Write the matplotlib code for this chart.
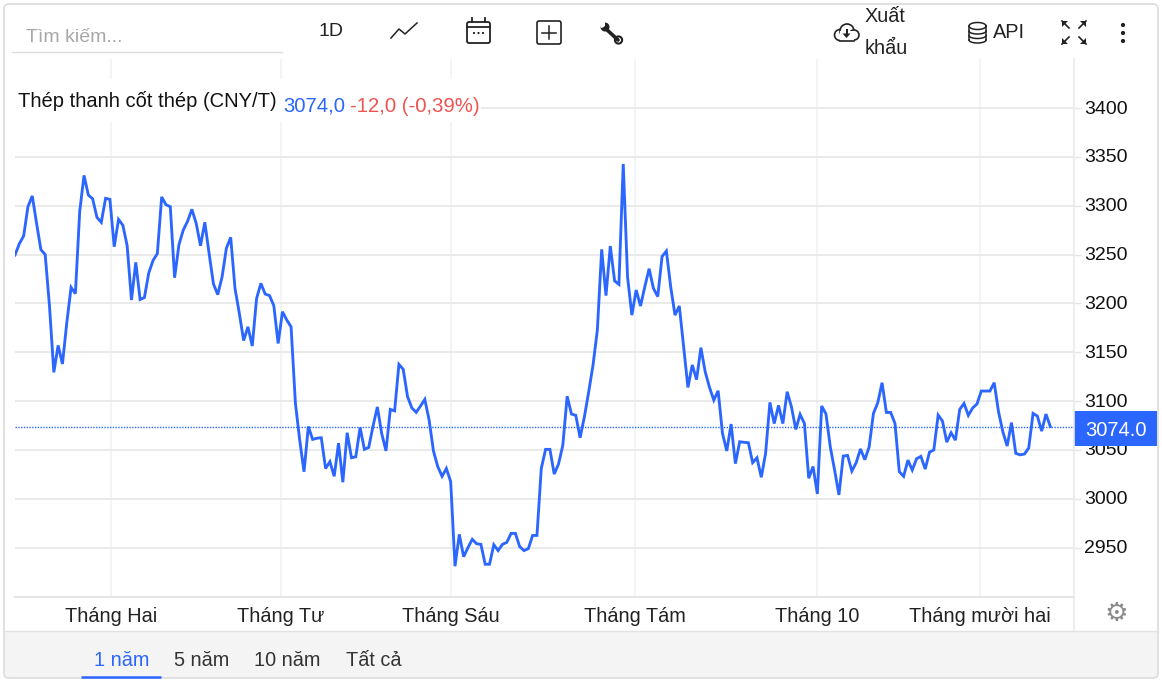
import numpy as np
import matplotlib
matplotlib.use("Agg")
import matplotlib.pyplot as plt
from matplotlib.patches import Rectangle, FancyBboxPatch, Circle, Polygon
from matplotlib.transforms import ScaledTranslation

prices = [
 3249.5,3261,3269,3299,3310,3282,3255,3250,3197,3129.4,3157,3138,3180,3216.4,3210,3294,3331,3311,3307,3288,
 3283,3307.5,3306.5,3258,3286,3280,3259,3203.5,3242,3204,3206,3231,3244,3251,3309,3301,3299,3226.3,3260,3275,
 3284,3296.3,3282,3259,3283,3251,3220,3209,3227,3256.4,3267.6,3215.4,3190,3162,3176,3156.4,3205,3220.5,3209.6,3208,
 3197.7,3159,3191.5,3183,3176,3098,3060,3027.7,3074,3060.8,3062,3062.5,3031,3038,3023,3057,3017,3067.6,3042,3043,
 3073,3050.6,3052.6,3074.5,3094,3067,3049,3091.5,3090,3137.6,3132.5,3104.5,3093,3088.5,3095,3101.8,3080.6,3049,3033,3023,
 3031,3017.5,2931,2963.6,2940.7,2950,2958.5,2954,2953.4,2933,2933,2953,2947,2953.4,2955.4,2964.6,2964.6,2951,2947,2949,
 2962.5,2962.5,3031,3050.6,3050.6,3025.3,3035.6,3055,3105,3086.8,3085.4,3062.5,3084,3109.6,3137,3172.7,3255.3,3208,3258.7,3223,
 3219.5,3342.7,3227,3188,3213.7,3197.3,3217,3235.5,3215.4,3207,3248,3253.6,3217,3188,3197.3,3155.7,3114,3137,3122,3154.7,
 3130,3114,3101,3110.6,3067,3049,3076.5,3036,3058.4,3057.8,3057.4,3037,3042,3022,3046.5,3098.7,3077,3095.6,3077,3109.6,
 3094,3071,3086.4,3077,3021,3033,3005,3095,3086.8,3053,3029.4,3004,3043.7,3044.4,3028.4,3037,3051,3040,3053,3087.4,
 3098.3,3118.8,3088.4,3088.4,3077,3027.7,3023,3039.6,3029.4,3041,3043.4,3030.4,3047.8,3050,3085.7,3079.6,3058,3067.6,3060,3091.5,
 3097.6,3085.4,3093,3097,3110.3,3110.3,3110.3,3118.8,3089,3068.6,3054,3078,3046.5,3045,3045.8,3052,3087.4,3084.7,3069.3,3086.7,3074]
y_ticks = [2950,3000,3050,3100,3150,3200,3250,3300,3350,3400]
month_pos = [22.3,61.7,101.1,143.8,185.9,223.7]
month_labels = ["Tháng Hai","Tháng Tư","Tháng Sáu","Tháng Tám","Tháng 10","Tháng mười hai"]
last_price = 3074.0
range_labels = ["1 năm","5 năm","10 năm","Tất cả"]

plt.rcParams['font.family'] = ['Liberation Sans','DejaVu Sans']
W,H = 1162,682
BLUE = "#2b66ff"
fig = plt.figure(figsize=(W/100,H/100),dpi=100,facecolor="white")

L,R,T,B = 15,1074,59,597
ax = fig.add_axes([L/W,1-B/H,(R-L)/W,(B-T)/H])
step = 1035.3/(len(prices)-1)
ax.plot(np.arange(len(prices)),prices,color=BLUE,lw=2.05,solid_joinstyle="miter",zorder=3)
ax.axhline(last_price,color=BLUE,lw=1.0,ls=(0,(1,1)),zorder=2)
ax.set_xlim(0,(R-L)/step)
ppu = 0.977
ax.set_ylim(3400-(B-108)/ppu,3400+(108-T)/ppu)
ax.set_yticks(y_ticks)
ax.set_xticks(month_pos)
ax.set_xticklabels(month_labels)
ax.yaxis.tick_right()
ax.tick_params(axis="y",length=5,color="#e6e6e6",width=1,labelsize=14,pad=2,labelcolor="#111111")
ax.tick_params(axis="x",length=0,labelsize=14.3,pad=7,labelcolor="#222222")
shift = ScaledTranslation(0,1/100,fig.dpi_scale_trans)
for lab in ax.get_yticklabels():
    lab.set_transform(lab.get_transform()+shift)
ax.grid(axis="y",color="#e8e8e8",lw=1.3,zorder=0)
ax.grid(axis="x",color="#f0f4f7",lw=1.3,zorder=0)
ax.set_axisbelow(True)
for s in ("top","left"):
    ax.spines[s].set_visible(False)
ax.spines["bottom"].set_color("#e6e6e6"); ax.spines["bottom"].set_linewidth(1.5)
ax.spines["right"].set_visible(False)

ov = fig.add_axes([0,0,1,1],zorder=5)
ov.set_xlim(0,W); ov.set_ylim(H,0); ov.axis("off"); ov.patch.set_alpha(0)

TXT = "#222222"
# axis separator
ov.plot([1074,1074],[59,631],color="#eaeaea",lw=1.2)
# title block
ov.add_patch(Rectangle((15,79),466,43,fc="white",ec="none"))
ov.text(18,101,"Thép thanh cốt thép (CNY/T)",fontsize=14.5,color="#111111",va="center")
ov.text(283,106,"3074,0",fontsize=14.6,color=BLUE,va="center")
ov.text(350,106,"-12,0 (-0,39%)",fontsize=14.6,color="#ef5350",va="center")
# last price flag
ov.add_patch(Rectangle((1074,411),83,35,fc=BLUE,ec="none"))
ov.text(1115.5,430,f"{last_price:.1f}",fontsize=14.5,color="white",ha="center",va="center")
# footer
ov.add_patch(Rectangle((4,631),1154,47,fc="#f4f4f4",ec="none"))
ov.plot([4,1158],[631,631],color="#e2e2e2",lw=1)
xs = [94,174,254,346]
for i,(x,t) in enumerate(zip(xs,range_labels)):
    ov.text(x,660,t,fontsize=14.3,color=BLUE if i==0 else "#333333",va="center")
ov.plot([81,161],[677,677],color=BLUE,lw=1.8,solid_capstyle="butt")
# outer frame
ov.add_patch(FancyBboxPatch((4,4),1154,674,boxstyle="round,pad=0,rounding_size=5",fc="none",ec="#dcdcdc",lw=1.2))
# search
ov.text(26,37,"Tìm kiếm...",fontsize=14,color="#a8a8a8",va="center")
ov.plot([12,282],[52,52],color="#dddddd",lw=1)
# toolbar text
ov.text(319,32,"1D",fontsize=14,color=TXT,va="center")
ov.text(865,17,"Xuất",fontsize=14.3,color=TXT,va="center")
ov.text(865,48,"khẩu",fontsize=14.3,color=TXT,va="center")
ov.text(993,33,"API",fontsize=14.3,color=TXT,va="center")
k = "#222222"
# line icon
ov.plot([391,399,405,417],[38,29,34,23],color=k,lw=1.1)
# calendar
ov.add_patch(FancyBboxPatch((467,22),23,21,boxstyle="round,pad=0,rounding_size=2",fc="none",ec=k,lw=1.3))
ov.plot([467,490],[27,27],color=k,lw=1.3)
ov.plot([472,472],[18,22],color=k,lw=1.3); ov.plot([485,485],[18,22],color=k,lw=1.3)
for x in (474,478.5,483):
    ov.add_patch(Circle((x,33),1.1,fc=k,ec="none"))
# plus box
ov.add_patch(FancyBboxPatch((537,21),24,23,boxstyle="round,pad=0,rounding_size=2",fc="none",ec=k,lw=1.2))
ov.plot([549,549],[26,39],color=k,lw=1.1); ov.plot([542,556],[32.5,32.5],color=k,lw=1.1)
# wrench
ov.plot([605,618],[28,40],color=k,lw=2.6,solid_capstyle="round")
ov.add_patch(Circle((605,27),4.5,fc=k,ec="none"))
ov.add_patch(Polygon([[598,20],[605,20],[605,27],[601,28]],fc="white",ec="none"))
ov.add_patch(Circle((618.5,40),3.6,fc="white",ec=k,lw=1.5))
# cloud
for c,r in (((840,35),5.5),((847,31),7),((854,35),5)):
    ov.add_patch(Circle(c,r,fc="white",ec=k,lw=1.2))
ov.add_patch(Rectangle((840,31),14,9.5,fc="white",ec="none"))
ov.plot([840,854],[40.5,40.5],color=k,lw=1.2)
ov.plot([846.5,846.5],[30,34],color=k,lw=1.5)
ov.add_patch(Polygon([[842.5,33.5],[850.5,33.5],[846.5,38]],fc=k,ec="none"))
# database
th = np.linspace(0,2*np.pi,60)
ov.plot(977.5+8.5*np.cos(th),26+3.5*np.sin(th),color=k,lw=1.1)
ov.plot([969,969],[26,40],color=k,lw=1.1); ov.plot([986,986],[26,40],color=k,lw=1.1)
th2 = np.linspace(0,np.pi,30)
for y in (31,35.5,40):
    ov.plot(977.5-8.5*np.cos(th2),y+3*np.sin(th2),color=k,lw=1.1)
# fullscreen
for (x0,y0,sx,sy) in ((1062,21,1,1),(1086,21,-1,1),(1062,44,1,-1),(1086,44,-1,-1)):
    ov.plot([x0,x0+7*sx],[y0,y0+7*sy],color=k,lw=1.2)
    ov.add_patch(Polygon([[x0,y0],[x0+6*sx,y0],[x0,y0+6*sy]],fc=k,ec="none"))
# dots
for y in (25,33,41):
    ov.add_patch(Circle((1123,y),2.1,fc=k,ec="none"))
# gear
ov.text(1116,613.5,"\u2699",fontsize=19,color="#8a8a8a",ha="center",va="center",family="DejaVu Sans")

fig.savefig("out.png",dpi=100)
